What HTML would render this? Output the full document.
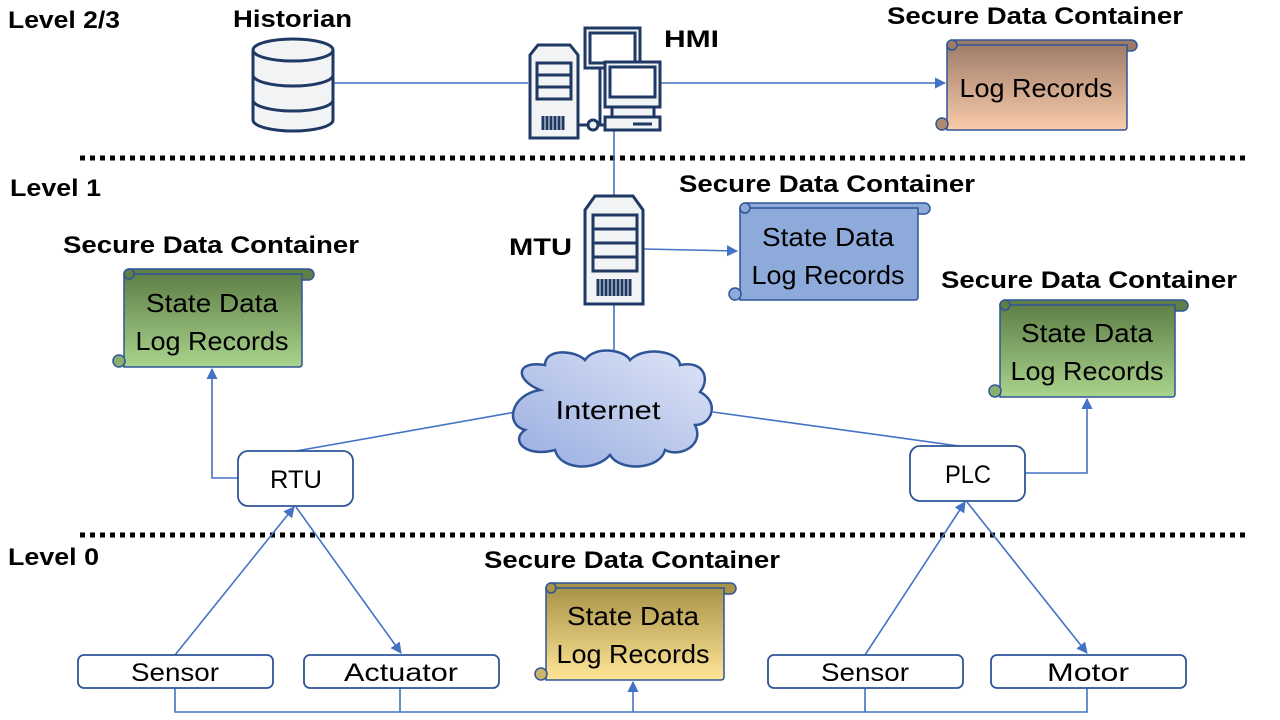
<!DOCTYPE html>
<html><head><meta charset="utf-8"><style>
html,body{margin:0;padding:0;background:#fff;width:1280px;height:720px;overflow:hidden}
svg{display:block}
text{font-family:"Liberation Sans",sans-serif}
.h{font-weight:bold;font-size:24px;fill:#000}
.t{font-size:26px;fill:#000;text-anchor:middle}
.b{font-size:25px;fill:#000;text-anchor:middle}
.ln{stroke:#4472c4;stroke-width:1.6;fill:none}
.ic{stroke:#1f3864;stroke-width:3;fill:#f2f3f5}
.bx{stroke:#2f5597;stroke-width:1.8;fill:#fff}
</style></head><body>
<svg width="1280" height="720" viewBox="0 0 1280 720">
<defs>
<marker id="a" viewBox="0 0 10 10" refX="9" refY="5" markerWidth="7" markerHeight="7" orient="auto-start-reverse"><path d="M0,0L10,5L0,10z" fill="#4472c4"/></marker>
<linearGradient id="go" x1="0" y1="0" x2="0" y2="1"><stop offset="0" stop-color="#a07e6a"/><stop offset="1" stop-color="#f9cbaa"/></linearGradient>
<linearGradient id="gg" x1="0" y1="0" x2="0" y2="1"><stop offset="0" stop-color="#5f7f47"/><stop offset="1" stop-color="#a9d48c"/></linearGradient>
<linearGradient id="gy" x1="0" y1="0" x2="0" y2="1"><stop offset="0" stop-color="#a89448"/><stop offset="1" stop-color="#ffe597"/></linearGradient>
<linearGradient id="gc" x1="0" y1="1" x2="1" y2="0"><stop offset="0" stop-color="#98ade0"/><stop offset="1" stop-color="#dfe5f7"/></linearGradient>
</defs>

<text class="h" x="8" y="28" textLength="112" lengthAdjust="spacingAndGlyphs">Level 2/3</text>
<text class="h" x="10" y="196" textLength="91" lengthAdjust="spacingAndGlyphs">Level 1</text>
<text class="h" x="8" y="565" textLength="91" lengthAdjust="spacingAndGlyphs">Level 0</text>
<line x1="80" y1="158" x2="1245" y2="158" stroke="#000" stroke-width="5" stroke-dasharray="5,5"/>
<line x1="80" y1="535" x2="1245" y2="535" stroke="#000" stroke-width="5" stroke-dasharray="5,5"/>

<line class="ln" x1="334" y1="83" x2="528" y2="83"/>
<line class="ln" x1="660" y1="83" x2="945" y2="83" marker-end="url(#a)"/>
<line class="ln" x1="614" y1="130" x2="614" y2="196"/>
<path class="ln" d="M644,249 L737,251" marker-end="url(#a)"/>
<line class="ln" x1="614" y1="305" x2="614" y2="358"/>
<line class="ln" x1="516" y1="412" x2="296" y2="451"/>
<line class="ln" x1="713" y1="412" x2="966" y2="447"/>
<path class="ln" d="M238,478 H212 V369" marker-end="url(#a)"/>
<path class="ln" d="M1025,473 H1087 V399" marker-end="url(#a)"/>
<line class="ln" x1="175" y1="655" x2="294" y2="507" marker-end="url(#a)"/>
<line class="ln" x1="296" y1="507" x2="401" y2="653" marker-end="url(#a)"/>
<line class="ln" x1="865" y1="655" x2="965" y2="502" marker-end="url(#a)"/>
<line class="ln" x1="967" y1="502" x2="1087" y2="653" marker-end="url(#a)"/>
<path class="ln" d="M175,688 V712 H1087 V688 M400,688 V712 M865,688 V712"/>
<line class="ln" x1="633" y1="712" x2="633" y2="682" marker-end="url(#a)"/>

<g class="ic" stroke-width="2.5">
<path d="M253,50 V120 A40,11 0 0 0 333,120 V50"/>
<ellipse cx="293" cy="50" rx="40" ry="11"/>
<path d="M253,75 A40,11 0 0 0 333,75 M253,100 A40,11 0 0 0 333,100" fill="none"/>
</g>
<text class="h" x="233" y="27" textLength="119" lengthAdjust="spacingAndGlyphs">Historian</text>

<g class="ic" stroke-width="2.5">
<path d="M530,138 V55 L538,45 H570 L578,55 V138 Z"/>
<rect x="537" y="63" width="34" height="36" fill="none"/>
<line x1="537" y1="75" x2="571" y2="75"/><line x1="537" y1="87" x2="571" y2="87"/>
<path d="M543,116 v14 M547,116 v14 M551,116 v14 M555,116 v14 M559,116 v14 M563,116 v14" fill="none"/>
<rect x="585" y="28" width="55" height="40"/>
<rect x="590" y="33" width="45" height="30" fill="#fff"/>
<path d="M600,68 V125 M578,125 H604" fill="none"/>
<circle cx="593" cy="125" r="5"/>
<rect x="605" y="62" width="55" height="45"/>
<rect x="610" y="67" width="45" height="30" fill="#fff"/>
<path d="M612,107 V117 H654 V107 Z"/>
<rect x="605" y="117" width="55" height="13"/>
<line x1="633" y1="124" x2="652" y2="124"/>
</g>
<text class="h" x="664" y="47" textLength="55" lengthAdjust="spacingAndGlyphs">HMI</text>

<g class="ic" stroke-width="2.5">
<path d="M585,304 V210 L595,196 H633 L643,210 V304 Z"/>
<rect x="593" y="215" width="44" height="56" fill="none"/>
<line x1="593" y1="229" x2="637" y2="229"/><line x1="593" y1="243" x2="637" y2="243"/><line x1="593" y1="257" x2="637" y2="257"/>
<path d="M598,279 v17 M602,279 v17 M606,279 v17 M610,279 v17 M614,279 v17 M618,279 v17 M622,279 v17 M626,279 v17 M630,279 v17" fill="none"/>
</g>
<text class="h" x="509" y="255" textLength="63" lengthAdjust="spacingAndGlyphs">MTU</text>

<path d="M540,390 C515,380 515,360 545,365 C545,348 575,350 585,360 C595,345 625,350 630,360 C645,345 680,352 680,365 C705,360 710,380 700,392 C720,402 712,425 695,425 C705,445 680,458 665,450 C660,470 620,472 610,455 C595,472 560,470 555,450 C525,458 510,440 525,430 C505,425 510,395 540,390 Z" fill="url(#gc)" stroke="#2f5597" stroke-width="2.5"/>
<text class="t" x="608" y="419" textLength="105" lengthAdjust="spacingAndGlyphs">Internet</text>

<g stroke="#2f5597" stroke-width="1.5">
<rect x="947" y="40" width="190" height="11" rx="5.5" fill="#9c7a66"/>
<path d="M947,45 H1127 V127 Q1127,130 1124,130 H947 Z" fill="url(#go)"/>
<circle cx="942" cy="124" r="6" fill="#b08a6e"/><circle cx="952" cy="45" r="5" fill="#9c7a66"/>

<rect x="740" y="203" width="190" height="11" rx="5.5" fill="#8eaadb"/>
<path d="M740,208 H918 V297 Q918,300 915,300 H740 Z" fill="#8eaadb"/>
<circle cx="735" cy="294" r="6" fill="#8eaadb"/><circle cx="745" cy="208" r="5" fill="#8eaadb"/>

<rect x="124" y="269" width="190" height="11" rx="5.5" fill="#5f7f47"/>
<path d="M124,274 H302 V364 Q302,367 299,367 H124 Z" fill="url(#gg)"/>
<circle cx="119" cy="361" r="6" fill="#8aaf6e"/><circle cx="129" cy="274" r="5" fill="#5f7f47"/>

<rect x="1000" y="300" width="188" height="11" rx="5.5" fill="#5f7f47"/>
<path d="M1000,305 H1175 V394 Q1175,397 1172,397 H1000 Z" fill="url(#gg)"/>
<circle cx="995" cy="391" r="6" fill="#8aaf6e"/><circle cx="1005" cy="305" r="5" fill="#5f7f47"/>

<rect x="546" y="583" width="190" height="11" rx="5.5" fill="#a89448"/>
<path d="M546,588 H724 V677 Q724,680 721,680 H546 Z" fill="url(#gy)"/>
<circle cx="541" cy="674" r="6" fill="#c9b46a"/><circle cx="551" cy="588" r="5" fill="#a89448"/>
</g>
<text class="h" x="887" y="24" textLength="296" lengthAdjust="spacingAndGlyphs">Secure Data Container</text>
<text class="t" x="1036" y="97" textLength="153" lengthAdjust="spacingAndGlyphs">Log Records</text>
<text class="h" x="679" y="192" textLength="296" lengthAdjust="spacingAndGlyphs">Secure Data Container</text>
<text class="t" x="828" y="246" textLength="132" lengthAdjust="spacingAndGlyphs">State Data</text>
<text class="t" x="828" y="284" textLength="153" lengthAdjust="spacingAndGlyphs">Log Records</text>
<text class="h" x="63" y="253" textLength="296" lengthAdjust="spacingAndGlyphs">Secure Data Container</text>
<text class="t" x="212" y="312" textLength="132" lengthAdjust="spacingAndGlyphs">State Data</text>
<text class="t" x="212" y="350" textLength="153" lengthAdjust="spacingAndGlyphs">Log Records</text>
<text class="h" x="941" y="288" textLength="296" lengthAdjust="spacingAndGlyphs">Secure Data Container</text>
<text class="t" x="1087" y="342" textLength="132" lengthAdjust="spacingAndGlyphs">State Data</text>
<text class="t" x="1087" y="380" textLength="153" lengthAdjust="spacingAndGlyphs">Log Records</text>
<text class="h" x="484" y="568" textLength="296" lengthAdjust="spacingAndGlyphs">Secure Data Container</text>
<text class="t" x="633" y="625" textLength="132" lengthAdjust="spacingAndGlyphs">State Data</text>
<text class="t" x="633" y="663" textLength="153" lengthAdjust="spacingAndGlyphs">Log Records</text>

<rect class="bx" x="238" y="451" width="115" height="55" rx="10"/>
<text class="b" x="296" y="488" textLength="52" lengthAdjust="spacingAndGlyphs">RTU</text>
<rect class="bx" x="910" y="446" width="115" height="55" rx="10"/>
<text class="b" x="968" y="483" textLength="46" lengthAdjust="spacingAndGlyphs">PLC</text>
<rect class="bx" x="78" y="655" width="195" height="33" rx="6"/>
<text class="b" x="175" y="681" textLength="88" lengthAdjust="spacingAndGlyphs">Sensor</text>
<rect class="bx" x="304" y="655" width="195" height="33" rx="6"/>
<text class="b" x="401" y="681" textLength="114" lengthAdjust="spacingAndGlyphs">Actuator</text>
<rect class="bx" x="768" y="655" width="195" height="33" rx="6"/>
<text class="b" x="865" y="681" textLength="88" lengthAdjust="spacingAndGlyphs">Sensor</text>
<rect class="bx" x="991" y="655" width="195" height="33" rx="6"/>
<text class="b" x="1088" y="681" textLength="82" lengthAdjust="spacingAndGlyphs">Motor</text>
</svg>
</body></html>
